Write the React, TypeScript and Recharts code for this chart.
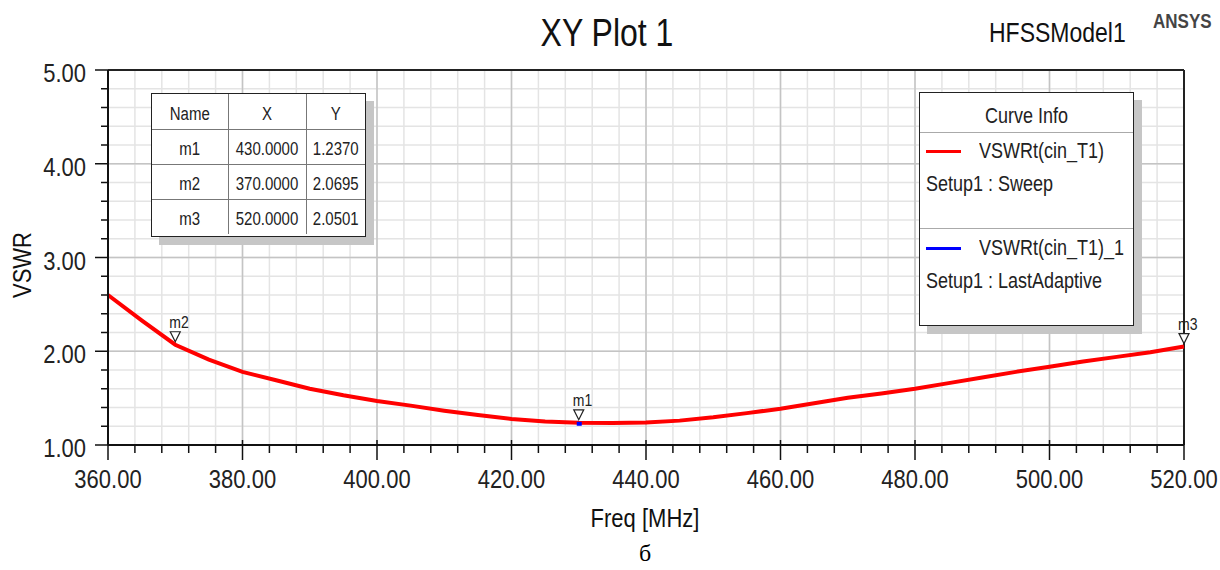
import React from "react";
import {
  ComposedChart,
  Line,
  Scatter,
  XAxis,
  YAxis,
  CartesianGrid,
  ReferenceLine,
} from "recharts";

// ---- data ----
const freqs = [
  360, 365, 370, 375, 380, 385, 390, 395, 400, 405, 410, 415, 420, 425, 430,
  435, 440, 445, 450, 455, 460, 465, 470, 475, 480, 485, 490, 495, 500, 505,
  510, 515, 520,
];
const vswrSweep = [
  2.6, 2.33, 2.0695, 1.91, 1.78, 1.69, 1.6, 1.53, 1.47, 1.42, 1.366, 1.32,
  1.278, 1.25, 1.237, 1.235, 1.24, 1.26, 1.295, 1.34, 1.387, 1.445, 1.505,
  1.55, 1.6, 1.66, 1.72, 1.78, 1.835, 1.89, 1.94, 1.99, 2.0501,
];
const adaptiveFreqs = [430];
const adaptiveVswr = [1.237];

const markerNames = ["m1", "m2", "m3"];
const markerX = [430, 370, 520];
const markerY = [1.237, 2.0695, 2.0501];

const xTicks = [
  360, 364, 368, 372, 376, 380, 384, 388, 392, 396, 400, 404, 408, 412, 416,
  420, 424, 428, 432, 436, 440, 444, 448, 452, 456, 460, 464, 468, 472, 476,
  480, 484, 488, 492, 496, 500, 504, 508, 512, 516, 520,
];
const xMajor = [380, 400, 420, 440, 460, 480, 500];
const yTicks = [
  1.0, 1.2, 1.4, 1.6, 1.8, 2.0, 2.2, 2.4, 2.6, 2.8, 3.0, 3.2, 3.4, 3.6, 3.8,
  4.0, 4.2, 4.4, 4.6, 4.8, 5.0,
];
const yMajor = [2, 3, 4];

const curveNames = ["VSWRt(cin_T1)", "VSWRt(cin_T1)_1"];
const curveSetups = ["Setup1 : Sweep", "Setup1 : LastAdaptive"];
const curveColors = ["#ff0000", "#0000ff"];

const sweepData = freqs.map((f, i) => ({ f, v: vswrSweep[i] }));
const adaptiveData = adaptiveFreqs.map((f, i) => ({ f, v: adaptiveVswr[i] }));
const markerData = markerNames.map((name, i) => ({
  f: markerX[i],
  v: markerY[i],
  name,
}));

const FONT = "'Liberation Sans', Arial, sans-serif";
const SY = 1.2;
const stretch: React.CSSProperties = {
  display: "inline-block",
  transform: `scaleY(${SY})`,
};

const XTick = (props: any) => {
  const { x, y, payload } = props;
  const major = Math.round(payload.value) % 20 === 0;
  return (
    <g>
      <line
        x1={x}
        x2={x}
        y1={y - (major ? 5 : 0)}
        y2={y + (major ? 15 : 8)}
        stroke="#111"
        strokeWidth={1.5}
      />
      {major && (
        <text
          transform={`translate(${x} ${y + 43}) scale(1 ${SY})`}
          x={0}
          y={0}
          textAnchor="middle"
          fontSize={22}
          fill="#222"
          fontFamily={FONT}
        >
          {payload.value.toFixed(2)}
        </text>
      )}
    </g>
  );
};

const YTick = (props: any) => {
  const { x, y, payload } = props;
  const major = Math.abs(payload.value - Math.round(payload.value)) < 1e-6;
  return (
    <g>
      <line
        x1={x - (major ? 13 : 7)}
        x2={x}
        y1={y}
        y2={y}
        stroke="#111"
        strokeWidth={1.5}
      />
      {major && (
        <text
          transform={`translate(${x - 22} ${y + 12}) scale(1 ${SY})`}
          x={0}
          y={0}
          textAnchor="end"
          fontSize={22}
          fill="#222"
          fontFamily={FONT}
        >
          {payload.value.toFixed(2)}
        </text>
      )}
    </g>
  );
};

const MarkerShape = (props: any) => {
  const { cx, cy, payload } = props;
  return (
    <g>
      <polygon
        points={`${cx - 5},${cy - 13} ${cx + 5},${cy - 13} ${cx},${cy - 3}`}
        fill="#fff"
        stroke="#222"
        strokeWidth={1.2}
      />
      <text
        transform={`translate(${cx - 6} ${cy - 17}) scale(1 ${SY})`}
        x={0}
        y={0}
        fontSize={14}
        fill="#222"
        fontFamily={FONT}
      >
        {payload.name}
      </text>
    </g>
  );
};

const AdaptiveShape = (props: any) => {
  const { cx, cy } = props;
  return <rect x={cx - 2} y={cy - 1} width={5} height={4} fill="#0000ff" />;
};

const cellStyle: React.CSSProperties = {
  borderRight: "1.5px solid #777",
  borderBottom: "1.5px solid #777",
  textAlign: "center",
  padding: 0,
  height: 35,
  fontSize: 15,
  color: "#222",
  paddingTop: 4,
  boxSizing: "border-box",
};

export default function App() {
  const last = markerNames.length - 1;
  return (
    <div
      style={{
        position: "absolute",
        left: 0,
        top: 0,
        width: 1220,
        height: 570,
        background: "#fff",
        fontFamily: FONT,
        overflow: "hidden",
      }}
    >
      <ComposedChart
        width={1220}
        height={570}
        margin={{ top: 70, right: 36, left: 8, bottom: 80 }}
      >
        <CartesianGrid stroke="#e4e4e4" strokeWidth={1.5} />
        <XAxis
          dataKey="f"
          type="number"
          domain={[360, 520]}
          ticks={xTicks}
          interval={0}
          height={45}
          tickSize={0}
          tickMargin={0}
          tick={<XTick />}
          axisLine={{ stroke: "#111", strokeWidth: 2 }}
          tickLine={false}
          allowDuplicatedCategory={false}
        />
        <YAxis
          dataKey="v"
          type="number"
          domain={[1, 5]}
          ticks={yTicks}
          interval={0}
          width={100}
          tickSize={0}
          tickMargin={0}
          tick={<YTick />}
          axisLine={{ stroke: "#111", strokeWidth: 2 }}
          tickLine={false}
        />
        {xMajor.map((v) => (
          <ReferenceLine key={"x" + v} x={v} stroke="#c4c4c4" strokeWidth={1.5} />
        ))}
        {yMajor.map((v) => (
          <ReferenceLine key={"y" + v} y={v} stroke="#c4c4c4" strokeWidth={1.5} />
        ))}
        <ReferenceLine y={5} stroke="#222" strokeWidth={2} />
        <ReferenceLine x={520} stroke="#222" strokeWidth={2} />
        <Line
          data={sweepData}
          dataKey="v"
          type="linear"
          stroke="#ff0000"
          strokeWidth={4}
          dot={false}
          activeDot={false}
          isAnimationActive={false}
        />
        <Scatter
          data={adaptiveData}
          dataKey="v"
          shape={<AdaptiveShape />}
          isAnimationActive={false}
        />
        <Scatter
          data={markerData}
          dataKey="v"
          shape={<MarkerShape />}
          isAnimationActive={false}
        />
      </ComposedChart>

      {/* Title & labels */}
      <div
        style={{
          position: "absolute",
          left: 457,
          width: 300,
          top: 15,
          textAlign: "center",
          fontSize: 32,
          color: "#111",
        }}
      >
        <span style={stretch}>XY Plot 1</span>
      </div>
      <div
        style={{
          position: "absolute",
          left: 989,
          top: 19,
          fontSize: 23,
          color: "#111",
        }}
      >
        <span style={stretch}>HFSSModel1</span>
      </div>
      <div
        style={{
          position: "absolute",
          left: 1153,
          top: 12,
          fontSize: 17,
          fontWeight: "bold",
          color: "#444",
        }}
      >
        <span style={stretch}>ANSYS</span>
      </div>
      <div
        style={{
          position: "absolute",
          left: 23,
          top: 265,
          fontSize: 22,
          color: "#111",
          transform: `translate(-50%, -50%) rotate(-90deg) scaleY(${SY})`,
          whiteSpace: "nowrap",
        }}
      >
        VSWR
      </div>
      <div
        style={{
          position: "absolute",
          left: 495,
          width: 300,
          top: 506,
          textAlign: "center",
          fontSize: 22,
          color: "#111",
        }}
      >
        <span style={stretch}>Freq [MHz]</span>
      </div>
      <div
        style={{
          position: "absolute",
          left: 595,
          width: 100,
          top: 540,
          textAlign: "center",
          fontSize: 24,
          color: "#000",
          fontFamily: "'Liberation Serif', 'Times New Roman', serif",
        }}
      >
        б
      </div>

      {/* Marker table */}
      <div
        style={{
          position: "absolute",
          left: 151,
          top: 93,
          width: 215,
          height: 144,
          boxShadow: "8px 8px 0 #c6c6c6",
          background: "#fff",
          border: "1.5px solid #222",
          boxSizing: "border-box",
        }}
      >
        <table
          style={{
            borderCollapse: "collapse",
            width: "100%",
            tableLayout: "fixed",
            fontFamily: FONT,
          }}
        >
          <colgroup>
            <col style={{ width: 76 }} />
            <col style={{ width: 78 }} />
            <col />
          </colgroup>
          <tbody>
            <tr>
              <td style={cellStyle}>
                <span style={stretch}>Name</span>
              </td>
              <td style={cellStyle}>
                <span style={stretch}>X</span>
              </td>
              <td style={{ ...cellStyle, borderRight: "none" }}>
                <span style={stretch}>Y</span>
              </td>
            </tr>
            {markerNames.map((n, i) => {
              const bb = i === last ? "none" : (cellStyle.borderBottom as string);
              return (
                <tr key={n}>
                  <td style={{ ...cellStyle, borderBottom: bb }}>
                    <span style={stretch}>{n}</span>
                  </td>
                  <td style={{ ...cellStyle, borderBottom: bb }}>
                    <span style={stretch}>{markerX[i].toFixed(4)}</span>
                  </td>
                  <td style={{ ...cellStyle, borderRight: "none", borderBottom: bb }}>
                    <span style={stretch}>{markerY[i].toFixed(4)}</span>
                  </td>
                </tr>
              );
            })}
          </tbody>
        </table>
      </div>

      {/* Curve info legend */}
      <div
        style={{
          position: "absolute",
          left: 919,
          top: 92,
          width: 215,
          height: 234,
          boxShadow: "8px 8px 0 #c6c6c6",
          background: "#fff",
          border: "1.5px solid #222",
          boxSizing: "border-box",
          color: "#222",
          fontSize: 18,
        }}
      >
        <div
          style={{
            position: "absolute",
            left: 0,
            right: 0,
            top: 13,
            textAlign: "center",
          }}
        >
          <span style={stretch}>Curve Info</span>
        </div>
        <div
          style={{
            position: "absolute",
            left: 0,
            right: 0,
            top: 39,
            borderTop: "1.5px solid #aaa",
          }}
        />
        {curveNames.map((n, i) => (
          <React.Fragment key={n}>
            {i > 0 && (
              <div
                style={{
                  position: "absolute",
                  left: 0,
                  right: 0,
                  top: 39 + 96 * i,
                  borderTop: "1.5px solid #aaa",
                }}
              />
            )}
            <div
              style={{
                position: "absolute",
                left: 6,
                width: 35,
                top: 57 + 97 * i,
                height: 3,
                background: curveColors[i],
              }}
            />
            <div
              style={{
                position: "absolute",
                left: 59,
                top: 48 + 97 * i,
                whiteSpace: "nowrap",
              }}
            >
              <span style={stretch}>{n}</span>
            </div>
            <div
              style={{
                position: "absolute",
                left: 6,
                top: 81 + 97 * i,
                whiteSpace: "nowrap",
              }}
            >
              <span style={stretch}>{curveSetups[i]}</span>
            </div>
          </React.Fragment>
        ))}
      </div>
    </div>
  );
}
